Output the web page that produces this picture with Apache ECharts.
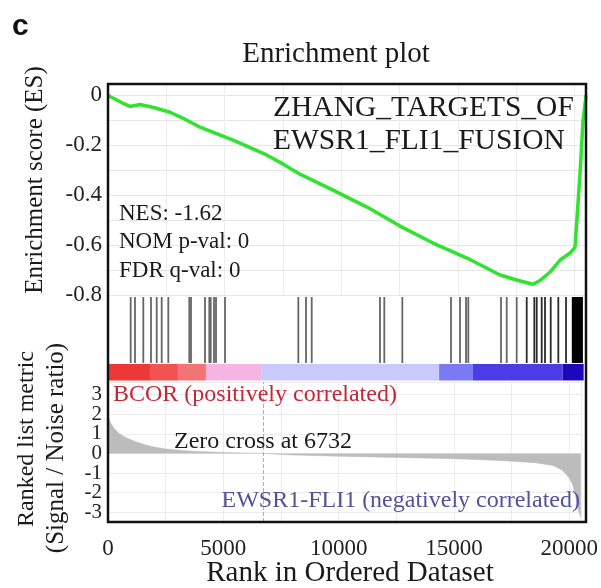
<!DOCTYPE html>
<html>
<head>
<meta charset="utf-8">
<script src="https://cdn.jsdelivr.net/npm/echarts@6/dist/echarts.min.js"></script>
<style>html,body{margin:0;padding:0;background:#fff;}#chart{width:601px;height:588px;}</style>
</head>
<body>
<div id="chart"></div>
<script>
// ---- data ----
const rankMax = 20500;
const esRank  = [0, 86, 400, 700, 944, 1372, 2000, 2659, 3300, 3946, 4600, 5361, 6100, 6820, 7500, 8235, 9650, 11108, 12524, 13940, 15398, 16813, 17600, 18229, 18529, 18958, 19387, 19816, 20030, 20116, 20245, 20373, 20480, 20500];
const esValue = [0, -0.005, -0.02, -0.035, -0.045, -0.037, -0.05, -0.068, -0.096, -0.128, -0.152, -0.18, -0.21, -0.24, -0.275, -0.316, -0.38, -0.448, -0.524, -0.592, -0.652, -0.72, -0.742, -0.757, -0.742, -0.708, -0.66, -0.632, -0.608, -0.488, -0.312, -0.1, -0.02, 0];
const hitRanks = [973, 1158, 1514, 1844, 2089, 2303, 2586, 3487, 3560, 4160, 4345, 4405, 4546, 4632, 5018, 8162, 8493, 8737, 11665, 11850, 12622, 14710, 15096, 15354, 15452, 16855, 17100, 17528, 17957, 18283, 18386, 18600, 18742, 18987, 19313, 19643, 19930, 19970, 20010, 20050, 20090, 20130, 20170, 20210, 20250, 20290, 20330];
const metricRank  = [0, 100, 250, 500, 800, 1200, 1600, 2000, 2600, 3500, 4500, 5500, 6732, 8000, 10000, 12500, 15000, 17000, 18500, 19300, 19700, 20000, 20150, 20300, 20400, 20500];
const metricValue = [1.9, 1.6, 1.3, 1.0, 0.8, 0.6, 0.45, 0.33, 0.22, 0.13, 0.08, 0.04, 0, -0.08, -0.14, -0.2, -0.27, -0.36, -0.47, -0.62, -0.86, -1.25, -1.6, -2.3, -2.9, -3.3];
const zeroCross = 6732;
const barStart = [0, 1800, 3000, 4200, 6600, 14200, 15650, 19500];
const barEnd   = [1800, 3000, 4200, 6600, 14200, 15650, 19500, 20400];
const xTicks = [0, 5000, 10000, 15000, 20000];
const esTicks = [0, -0.2, -0.4, -0.6, -0.8];
const metricTicks = [3, 2, 1, 0, -1, -2, -3];
const geneSetLines = ['ZHANG_TARGETS_OF', 'EWSR1_FLI1_FUSION'];
const statLines = ['NES: -1.62', 'NOM p-val: 0', 'FDR q-val: 0'];

// ---- styles ----
const barColors = ['#ee3838', '#f25252', '#f27474', '#f5b5e0', '#c9c9fb', '#7a7af4', '#4b3ce6', '#1c08b8'];
const FF = "'Liberation Serif', serif";
const L = 108, W = 478;

const near = (arr, v) => arr.some(t => Math.abs(t - v) < 1e-6);
const fmt = v => { const r = Math.round(v * 10) / 10; return (Math.abs(r) < 1e-9 ? 0 : r).toString(); };

const hiddenX = (grid) => ({ type: 'value', gridIndex: grid, min: 0, max: rankMax, show: false });
const txt = (x, y, text, font, fill, align, extra) => Object.assign({
  type: 'text', x: x, y: y, z: 100, zlevel: 0,
  style: { text: text, font: font, fill: fill, align: align, verticalAlign: 'middle' }
}, extra || {});

const chart = echarts.init(document.getElementById('chart'), null, { renderer: 'canvas' });
chart.setOption({
  animation: false,
  backgroundColor: '#fff',
  grid: [
    { left: L, width: W, top: 84, height: 211 },
    { left: L, width: W, top: 295, height: 68 },
    { left: L, width: W, top: 363, height: 19 },
    { left: L, width: W, top: 382, height: 140 },
    { left: L, width: W, top: 84, height: 438, show: true, borderColor: '#111', borderWidth: 2.5, backgroundColor: 'transparent', z: 20 }
  ],
  xAxis: [
    { type: 'value', gridIndex: 0, min: 0, max: rankMax, interval: 2500,
      axisLine: { show: false }, axisTick: { show: false }, axisLabel: { show: false },
      splitLine: { show: true, lineStyle: { color: '#ececec', width: 1 } } },
    hiddenX(1),
    hiddenX(2),
    { type: 'value', gridIndex: 3, min: 0, max: rankMax, interval: 2500,
      axisLine: { show: false }, axisTick: { show: false },
      axisLabel: { show: true, margin: 15, fontFamily: FF, fontSize: 23, color: '#222',
        formatter: v => near(xTicks, v) ? String(v) : '' },
      splitLine: { show: true, lineStyle: { color: '#ececec', width: 1 } } },
    hiddenX(4)
  ],
  yAxis: [
    { type: 'value', gridIndex: 0, min: -0.8, max: 0.045, interval: 0.1,
      axisLine: { show: false }, axisTick: { show: false },
      axisLabel: { margin: 6, fontFamily: FF, fontSize: 23, color: '#222',
        formatter: v => near(esTicks, v) ? fmt(v) : '' },
      splitLine: { show: true, lineStyle: { color: '#e6e6e6', width: 1 } } },
    { type: 'value', gridIndex: 1, min: 0, max: 1, show: false },
    { type: 'value', gridIndex: 2, min: 0, max: 1, show: false },
    { type: 'value', gridIndex: 3, min: -3.5, max: 3.65, interval: 0.5,
      axisLine: { show: false }, axisTick: { show: false },
      axisLabel: { margin: 6, fontFamily: FF, fontSize: 21, lineHeight: 18, color: '#222',
        formatter: v => near(metricTicks, v) ? String(Math.round(v)) : '' },
      splitLine: { show: true, lineStyle: { color: ['rgba(0,0,0,0)', '#ececec'], width: 1 } } },
    { type: 'value', gridIndex: 4, min: 0, max: 1, show: false }
  ],
  series: [
    { type: 'line', xAxisIndex: 0, yAxisIndex: 0, symbol: 'none', z: 5,
      lineStyle: { color: '#2fe32f', width: 3.5 },
      data: esRank.map((r, i) => [r, esValue[i]]) },
    { type: 'custom', xAxisIndex: 1, yAxisIndex: 1, z: 4,
      encode: { x: 0 },
      data: hitRanks.map(r => [r]),
      renderItem: (params, api) => {
        const r = api.value(0);
        const p0 = api.coord([r, 0]);
        const p1 = api.coord([r, 0.97]);
        const c = r > 19800 ? '#000' : (r > 17800 ? '#2a2a2a' : '#666');
        return { type: 'line', shape: { x1: p0[0], y1: p0[1], x2: p1[0], y2: p1[1] },
                 style: { stroke: c, lineWidth: 1.8 } };
      } },
    { type: 'custom', xAxisIndex: 2, yAxisIndex: 2, z: 3,
      encode: { x: [0, 1] },
      data: barStart.map((s, i) => [s, barEnd[i]]),
      renderItem: (params, api) => {
        const a = api.coord([api.value(0), 0.08]);
        const b = api.coord([api.value(1), 0.95]);
        return { type: 'rect', shape: { x: a[0], y: b[1], width: b[0] - a[0], height: a[1] - b[1] },
                 style: { fill: barColors[params.dataIndex] } };
      } },
    { type: 'line', xAxisIndex: 3, yAxisIndex: 3, symbol: 'none', z: 3,
      lineStyle: { color: '#bcbcbc', width: 0.5 },
      areaStyle: { color: '#bcbcbc', opacity: 1 },
      data: metricRank.map((r, i) => [r, metricValue[i]]),
      markLine: { silent: true, symbol: 'none', label: { show: false },
        lineStyle: { color: '#b0b0b0', type: 'dashed', width: 1 },
        data: [{ xAxis: zeroCross }] } }
  ],
  graphic: {
    elements: [
      txt(12, 27, 'c', "bold 30px 'Liberation Sans', sans-serif", '#111', 'left'),
      txt(336, 54, 'Enrichment plot', '29px ' + FF, '#1a1a1a', 'center'),
      txt(273, 108, geneSetLines[0], '29.5px ' + FF, '#1a1a1a', 'left'),
      txt(273, 141, geneSetLines[1], '29.5px ' + FF, '#1a1a1a', 'left'),
      txt(119, 214, statLines[0], '23px ' + FF, '#1a1a1a', 'left'),
      txt(119, 242, statLines[1], '23px ' + FF, '#1a1a1a', 'left'),
      txt(119, 271, statLines[2], '23px ' + FF, '#1a1a1a', 'left'),
      txt(113, 395, 'BCOR (positively correlated)', '24px ' + FF, '#c4263a', 'left'),
      txt(263, 442, 'Zero cross at 6732', '24px ' + FF, '#1a1a1a', 'center'),
      txt(580, 501, 'EWSR1-FLI1 (negatively correlated)', '24px ' + FF, '#52529a', 'right'),
      txt(350, 573, 'Rank in Ordered Dataset', '29px ' + FF, '#1a1a1a', 'center'),
      txt(35, 180, 'Enrichment score (ES)', '25px ' + FF, '#1a1a1a', 'center', { rotation: Math.PI / 2 }),
      txt(27, 439, 'Ranked list metric', '24px ' + FF, '#1a1a1a', 'center', { rotation: Math.PI / 2 }),
      txt(56, 448, '(Signal / Noise ratio)', '25px ' + FF, '#1a1a1a', 'center', { rotation: Math.PI / 2 })
    ]
  }
});
</script>
</body>
</html>
